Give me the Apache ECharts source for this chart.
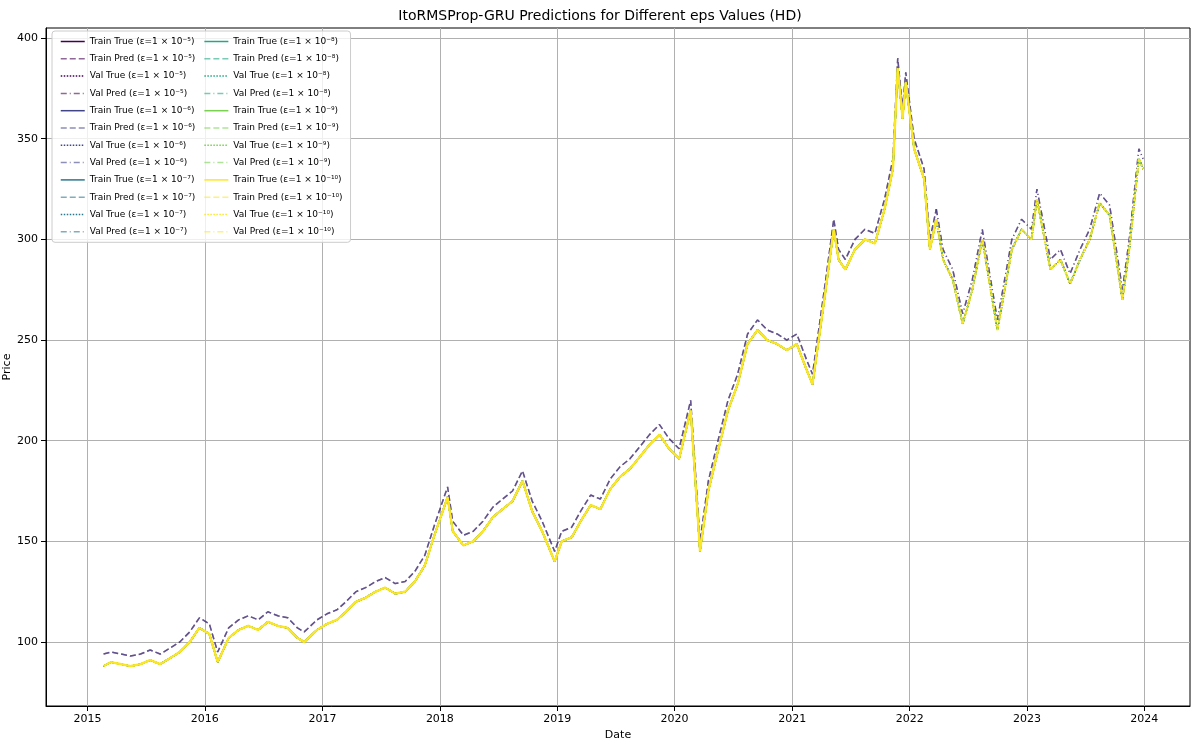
<!DOCTYPE html>
<html>
<head>
<meta charset="utf-8">
<script src="https://cdn.jsdelivr.net/npm/echarts@6/dist/echarts.min.js"></script>
<style>html,body{margin:0;padding:0;background:#fff}#main{width:1200px;height:744px}</style>
</head>
<body>
<div id="main"></div>
<script>
// dates and prices
var dates = ['2015-02-20','2015-03-15','2015-04-15','2015-05-15','2015-06-15','2015-07-15','2015-08-15','2015-09-15','2015-10-15','2015-11-15','2015-12-15',
	'2016-01-15','2016-02-10','2016-03-15','2016-04-15','2016-05-15','2016-06-15','2016-07-15','2016-08-15','2016-09-15','2016-10-15','2016-11-05','2016-12-15',
	'2017-01-15','2017-02-15','2017-03-15','2017-04-15','2017-05-15','2017-06-15','2017-07-15','2017-08-15','2017-09-15','2017-10-15','2017-11-15','2017-12-15',
	'2018-01-25','2018-02-10','2018-03-15','2018-04-15','2018-05-15','2018-06-15','2018-07-15','2018-08-15','2018-09-15','2018-10-15','2018-11-15','2018-12-24',
	'2019-01-15','2019-02-15','2019-03-15','2019-04-15','2019-05-15','2019-06-15','2019-07-15','2019-08-15','2019-09-15','2019-10-15','2019-11-15','2019-12-15',
	'2020-01-15','2020-02-20','2020-03-20','2020-04-15','2020-05-15','2020-06-15','2020-07-15','2020-08-15','2020-09-15','2020-10-15','2020-11-15','2020-12-15',
	'2021-01-15','2021-02-15','2021-03-05','2021-04-15','2021-05-10','2021-05-25','2021-06-15','2021-07-15','2021-08-15','2021-09-15','2021-10-15','2021-11-10','2021-11-25','2021-12-10','2021-12-20',
	'2022-01-15','2022-02-15','2022-03-05','2022-03-25','2022-04-15','2022-05-15','2022-06-15','2022-07-15','2022-08-15','2022-09-10','2022-10-01','2022-11-15','2022-12-15',
	'2023-01-15','2023-02-01','2023-03-15','2023-04-15','2023-05-15','2023-06-15','2023-07-15','2023-08-15','2023-09-15','2023-10-25','2023-11-15','2023-12-15','2023-12-28'];
var priceTrue = [88,90,89,88,89,91,89,92,95,100,107,
	104,90,102,106,108,106,110,108,107,102,100,106,
	109,111,115,120,122,125,127,124,125,130,138,153,
	172,155,148,150,155,162,166,170,180,165,155,140,
	150,152,160,168,166,176,182,186,192,198,203,196,
	191,215,145,175,195,215,228,248,255,250,248,245,
	248,235,228,275,305,290,285,295,300,298,315,335,385,360,378,
	345,330,295,310,290,280,258,275,300,275,255,295,305,
	300,320,285,290,278,290,300,318,312,270,295,340,335];
var pricePred = [94,95,94,93,94,96,94,97,100,105,112,
	109,95,107,111,113,111,115,113,112,107,105,111,
	114,116,120,125,127,130,132,129,130,135,143,158,
	177,160,153,155,160,167,171,175,185,170,160,145,
	155,157,165,173,171,181,187,191,197,203,208,201,
	196,220,150,180,200,220,233,253,260,255,253,250,
	253,240,233,280,310,295,290,300,305,303,320,340,390,365,383,
	350,335,300,315,295,285,263,280,305,280,260,300,310,
	305,325,290,295,283,295,305,323,317,275,300,345,340];
var yearTicks = ['2015','2016','2017','2018','2019','2020','2021','2022','2023','2024'];
var priceTicks = [100, 150, 200, 250, 300, 350, 400];
var epsLabels = ['5','6','7','8','9','10'];
var epsColors = ['#440154','#414487','#2a788e','#22a884','#7ad151','#fde725'];
var splitIndex = 89; // train / val boundary

function ts(s) { return Date.parse(s + 'T00:00:00Z'); }
var yearTs = yearTicks.map(function (y) { return ts(y + '-01-01'); });

var sup = {'0':'⁰','1':'¹','5':'⁵','6':'⁶','7':'⁷','8':'⁸','9':'⁹'};
function epsText(e) {
	var s = '⁻';
	for (var i = 0; i < e.length; i++) s += sup[e[i]];
	return '(ε=1 × 10' + s + ')';
}
function pairs(vals, from, to) {
	var out = [];
	for (var i = from; i < to; i++) out.push([ts(dates[i]), vals[i]]);
	return out;
}

var series = [];
var legendNames = [];
for (var k = 0; k < epsLabels.length; k++) {
	var c = epsColors[k];
	var pv = k < 2 ? pricePred : priceTrue;
	var w = k == 5 ? 2.2 : 1.5;
	var defs = [
		['Train True', 'solid', 1, priceTrue, 0, splitIndex + 1],
		['Train Pred', 'dashed', 0.6, pv, 0, splitIndex + 1],
		['Val True', 'dotted', 1, priceTrue, splitIndex, dates.length],
		['Val Pred', [6, 3, 1, 3], 0.6, pv, splitIndex, dates.length]
	];
	for (var d = 0; d < defs.length; d++) {
		var name = defs[d][0] + ' ' + epsText(epsLabels[k]);
		legendNames.push(name);
		series.push({
			name: name,
			type: 'line',
			symbol: 'none',
			silent: true,
			color: c,
			lineStyle: { width: w, type: defs[d][1], opacity: defs[d][2] },
			data: pairs(defs[d][3], defs[d][4], defs[d][5])
		});
	}
}

var myChart = echarts.init(document.getElementById('main'));
var option = {
	animation: false,
	backgroundColor: '#fff',
	textStyle: { fontFamily: 'DejaVu Sans' },
	title: {
		text: 'ItoRMSProp-GRU Predictions for Different eps Values (HD)',
		left: 'center', top: 4,
		textStyle: { fontSize: 14, fontWeight: 'normal', color: '#000' }
	},
	graphic: [{
		type: 'text', x: 7, y: 367, rotation: Math.PI / 2,
		style: { text: 'Price', fontSize: 11, fill: '#000', fontFamily: 'DejaVu Sans', align: 'center', verticalAlign: 'middle' }
	}],
	legend: {
		data: legendNames,
		orient: 'vertical',
		left: 52, top: 31,
		height: 212,
		itemWidth: 24, itemHeight: 10,
		itemGap: 8.3,
		padding: [6, 8],
		backgroundColor: 'rgba(255,255,255,0.8)',
		borderColor: '#ccc', borderWidth: 1, borderRadius: 3,
		itemStyle: { opacity: 0 },
		lineStyle: { width: 1.5 },
		textStyle: { fontSize: 9, color: '#000' }
	},
	grid: { left: 46, right: 10, top: 28, bottom: 38, outerBoundsMode: 'none', show: true, borderColor: '#000', borderWidth: 1 },
	xAxis: {
		type: 'value',
		min: ts('2014-08-25'), max: ts('2024-05-22'),
		name: 'Date', nameLocation: 'middle', nameGap: 22,
		nameTextStyle: { fontSize: 11, color: '#000' },
		axisLine: { show: true, lineStyle: { color: '#000' } },
		axisTick: { show: true, lineStyle: { color: '#000' }, customValues: yearTs },
		axisLabel: { fontSize: 11, color: '#000', customValues: yearTs,
			formatter: function (v) { return new Date(v).getUTCFullYear(); } },
		splitLine: { show: true, lineStyle: { color: '#b0b0b0' } }
	},
	yAxis: {
		type: 'value',
		min: 68.2, max: 405,
		axisLine: { show: true, lineStyle: { color: '#000' } },
		axisTick: { show: true, lineStyle: { color: '#000' }, customValues: priceTicks },
		axisLabel: { fontSize: 11, color: '#000', customValues: priceTicks },
		splitLine: { show: true, lineStyle: { color: '#b0b0b0' } }
	},
	series: series
};
myChart.setOption(option);
</script>
</body>
</html>
